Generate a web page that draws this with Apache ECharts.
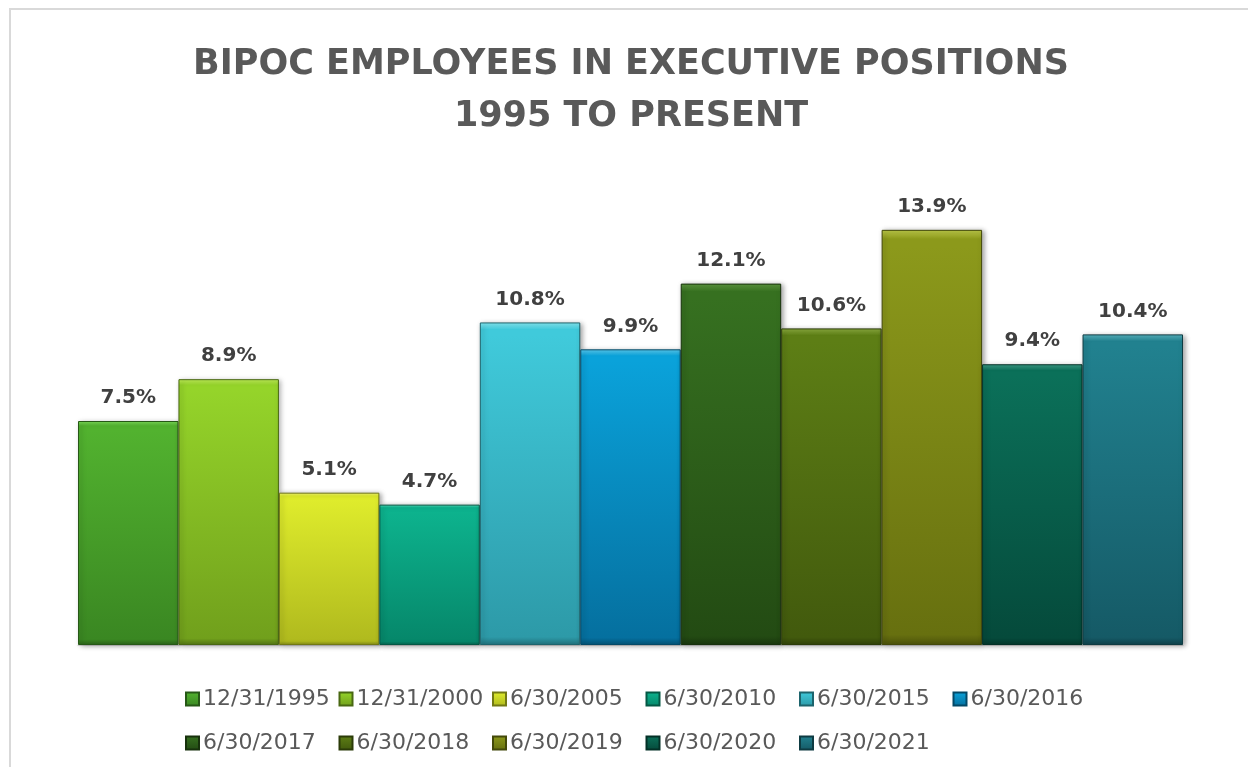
<!DOCTYPE html>
<html>
<head>
<meta charset="utf-8">
<style>
  html, body { margin: 0; padding: 0; background: #fff; }
  #main { width: 1248px; height: 767px; }
</style>
<script src="https://cdn.jsdelivr.net/npm/echarts@6/dist/echarts.min.js"></script>
</head>
<body>
<div id="main"></div>
<script>
// dates shown in the legend, one bar each
var periods = ['12/31/1995', '12/31/2000', '6/30/2005', '6/30/2010', '6/30/2015', '6/30/2016',
               '6/30/2017', '6/30/2018', '6/30/2019', '6/30/2020', '6/30/2021'];
// share of BIPOC employees in executive positions, %
var shares = [7.5, 8.9, 5.1, 4.7, 10.8, 9.9, 12.1, 10.6, 13.9, 9.4, 10.4];
var category = ['Executives'];

// top / bottom shade of every bar
var topColors = ['#52b22f', '#95d42a', '#dfec2c', '#0db38e', '#40cadb', '#0aa2da',
                 '#367020', '#5d7e15', '#8c991b', '#0b7059', '#21818f'];
var bottomColors = ['#3a8722', '#71a01c', '#b0ba1e', '#06876a', '#2d9aa8', '#05709f',
                    '#234b13', '#425a0d', '#67700f', '#054a3b', '#155a66'];
var edgeColors = ['#7ee05a', '#c3f35a', '#f6fb7a', '#4fe6c0', '#88eef8', '#5cd0f6',
                  '#5e9a40', '#8fb040', '#c0cc4a', '#3fa08a', '#5ab8c4'];

var chart = {
	init: function(){
		var myChart = echarts.init(document.getElementById('main'));
		myChart.setOption(chart.getOption());
	},
	darken: function(hex, k){
		var n = parseInt(hex.slice(1), 16);
		var r = Math.round(((n >> 16) & 255) * k);
		var g = Math.round(((n >> 8) & 255) * k);
		var b = Math.round((n & 255) * k);
		return 'rgb(' + r + ',' + g + ',' + b + ')';
	},
	barStyle: function(i){
		return {
			color: new echarts.graphic.LinearGradient(0, 0, 0, 1, [
				{offset: 0, color: edgeColors[i]},
				{offset: 0.022, color: topColors[i]},
				{offset: 0.04, color: topColors[i]},
				{offset: 0.975, color: bottomColors[i]},
				{offset: 1, color: chart.darken(bottomColors[i], 0.75)}
			]),
			borderColor: chart.darken(bottomColors[i], 0.65),
			borderWidth: 1,
			shadowColor: 'rgba(0,0,0,0.35)',
			shadowBlur: 5,
			shadowOffsetX: 2,
			shadowOffsetY: 1
		};
	},
	getSeries: function(){
		var series = [];
		for (var i = 0; i < periods.length; i++) {
			series.push({
				name: periods[i],
				type: 'bar',
				data: [shares[i]],
				barGap: '0%',
				barCategoryGap: '0%',
				itemStyle: chart.barStyle(i),
				label: {
					show: true,
					position: 'top',
					distance: 13,
					formatter: '{c}%',
					fontFamily: 'DejaVu Sans',
					fontWeight: 'bold',
					fontSize: 20,
					color: '#404040'
				}
			});
		}
		return series;
	},
	// one legend per item so the entries sit in fixed columns like the original
	getLegends: function(){
		var legends = [];
		for (var i = 0; i < periods.length; i++) {
			var col = i % 6;
			var row = Math.floor(i / 6);
			legends.push({
				data: [periods[i]],
				left: 180 + col * 153.5,
				top: 683 + row * 44,
				itemWidth: 13,
				itemHeight: 13,
				itemGap: 0,
				icon: 'rect',
				textStyle: {
					fontFamily: 'DejaVu Sans',
					fontSize: 22,
					color: '#595959',
					padding: [0, 0, 0, -1]
				}
			});
		}
		return legends;
	},
	getOption: function(){
		return {
			backgroundColor: '#fff',
			animation: false,
			title: {
				text: 'BIPOC EMPLOYEES IN EXECUTIVE POSITIONS\n1995 TO PRESENT',
				left: 626,
				top: 34,
				textAlign: 'center',
				textStyle: {
					fontFamily: 'DejaVu Sans',
					fontWeight: 'bold',
					fontSize: 35,
					lineHeight: 52,
					color: '#595959',
					align: 'center'
				}
			},
			graphic: [{
				type: 'rect',
				shape: {x: 10, y: 9, width: 1300, height: 800},
				style: {fill: 'none', stroke: '#d9d9d9', lineWidth: 2},
				silent: true
			}],
			legend: chart.getLegends(),
			grid: {left: 78, right: 65, top: 197, bottom: 122},
			xAxis: {
				type: 'category',
				data: category,
				axisLine: {lineStyle: {color: '#d9d9d9', width: 1}},
				axisTick: {show: false},
				axisLabel: {show: false}
			},
			yAxis: {
				type: 'value',
				min: 0,
				max: 15,
				show: false,
				splitLine: {show: false}
			},
			series: chart.getSeries()
		};
	}
};

chart.init();
</script>
</body>
</html>
